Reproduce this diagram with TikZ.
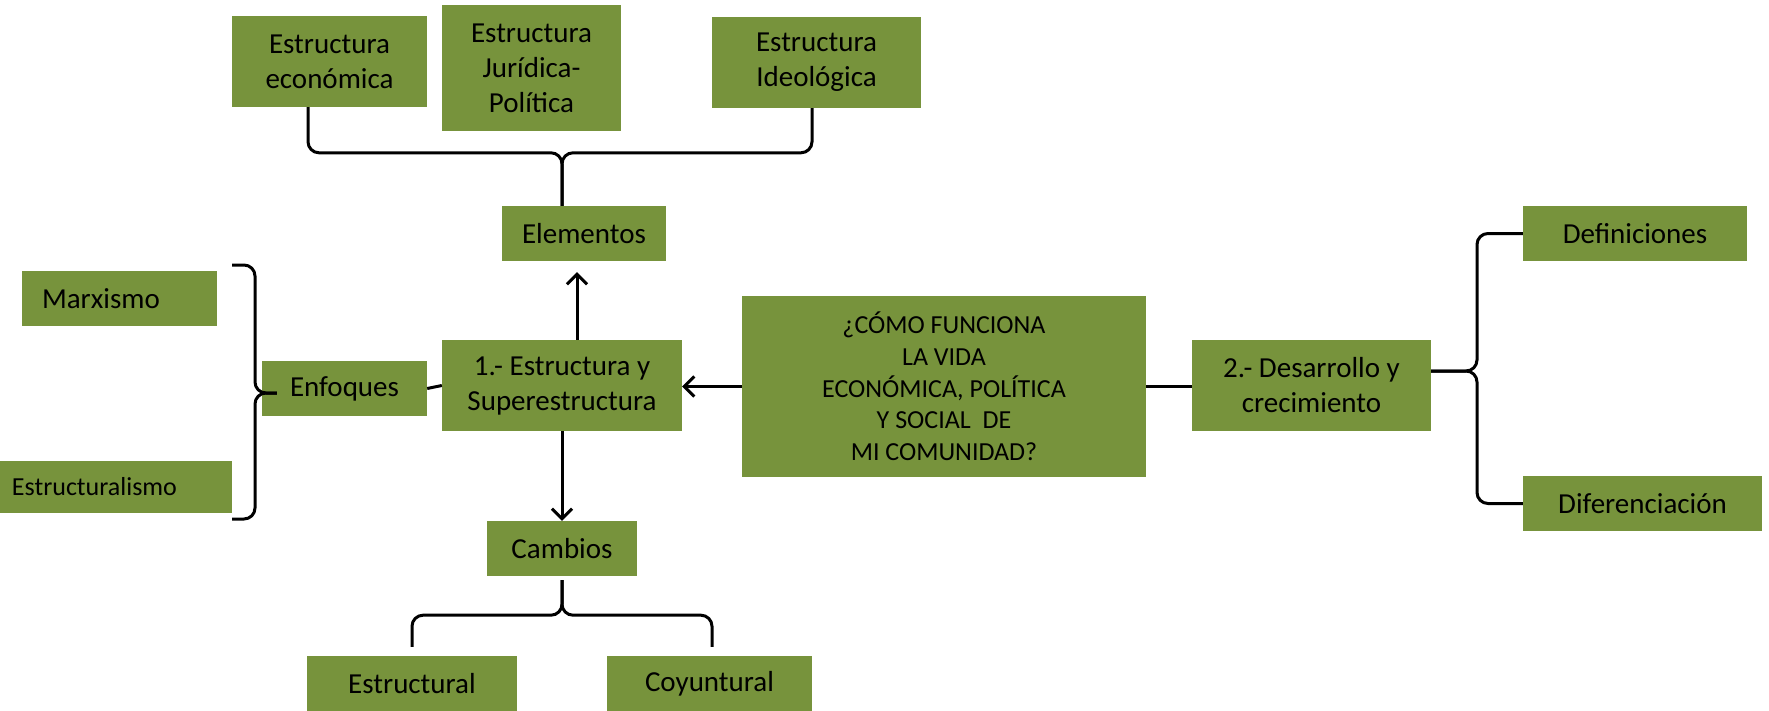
\documentclass[tikz,border=0pt]{standalone}
\usepackage{fontspec}
\setmainfont{Carlito}
\usetikzlibrary{arrows.meta,calc}
\definecolor{boxgreen}{HTML}{77933C}
\tikzset{
 box/.style={fill=boxgreen, inner sep=0pt, text=black, align=center, font=\fontsize{29}{35}\selectfont},
 conn/.style={line width=3pt, draw=black},
 brace/.style={conn, rounded corners=11pt},
 arr/.style={conn, -{Straight Barb[length=10pt,width=20pt]}},
}
\begin{document}
\begin{tikzpicture}[x=1pt,y=-1pt]
\useasboundingbox[fill=white] (0,0) rectangle (1769,710);
% top row
\node[box, minimum width=195, minimum height=91] (econ) at (329.5,61.5) {Estructura\\económica};
\node[box, minimum width=179, minimum height=126] (jur) at (531.5,68) {Estructura\\Jurídica-\\Política};
\node[box, minimum width=209, minimum height=91] (ideo) at (816.5,62.5) {Estructura\\Ideológica};
\node[box, minimum width=164, minimum height=55] (elem) at (584,233.5) {Elementos};
% left
\node[box, minimum width=195, minimum height=55, text width=155, align=left] (marx) at (119.5,298.5) {Marxismo};
\node[box, minimum width=232, minimum height=52, text width=208, align=left, font=\fontsize{26}{31}\selectfont] (estr) at (116,487) {Estructuralismo};
\node[box, minimum width=165, minimum height=55] (enf) at (344.5,388.5) {Enfoques};
\node[box, minimum width=240, minimum height=91] (one) at (562,385.5) {1.- Estructura y\\Superestructura};
% bottom
\node[box, minimum width=150, minimum height=55] (camb) at (562,548.5) {Cambios};
\node[box, minimum width=210, minimum height=56] (estruc) at (412,684) {Estructural};
\node[box, minimum width=205, minimum height=56] (coy) at (709.5,684) {Coyuntural};
% centre
\node[box, minimum width=404, minimum height=181, font=\fontsize{26}{31.7}\selectfont] (main) at (944,386.5) {¿CÓMO FUNCIONA\\LA VIDA\\ECONÓMICA, POLÍTICA\\Y SOCIAL\ \ DE\\MI COMUNIDAD?};
% right
\node[box, minimum width=239, minimum height=91] (dev) at (1311.5,385.5) {2.- Desarrollo y\\crecimiento};
\node[box, minimum width=224, minimum height=55] (def) at (1635,233.5) {Definiciones};
\node[box, minimum width=239, minimum height=55] (dif) at (1642.5,503.5) {Diferenciación};

% top brace
\coordinate (topjoin) at ($(elem.north)+(-22,-53)$);
\draw[brace] ($(econ.south)+(-21.5,0)$) |- (topjoin) -- ($(elem.north)+(-22,0)$);
\draw[brace] ($(ideo.south)+(-4.5,0)$) |- (topjoin) -- ($(elem.north)+(-22,0)$);
% left brace
\coordinate (lbT) at (232,265);
\coordinate (lbB) at (232,519);
\coordinate (lbM) at (255,393);
\coordinate (lbTip) at ($(enf.west)+(15,4.5)$);
\draw[brace] (lbT) -| (lbM) -- (lbTip);
\draw[brace] (lbB) -| (lbM) -- (lbTip);
% right brace
\coordinate (rbTip) at ($(dev.east)+(0,-14.5)$);
\coordinate (rbM) at (1477,371);
\draw[brace] (rbTip) -- (rbM) |- (def.west);
\draw[brace] (rbTip) -- (rbM) |- (dif.west);
% bottom brace
\coordinate (bjoin) at ($(camb.south)+(0,39)$);
\draw[brace] ($(camb.south)+(0,4)$) -- (bjoin) -| ($(estruc.north)+(0,-9)$);
\draw[brace] ($(camb.south)+(0,4)$) -- (bjoin) -| ($(coy.north)+(2.5,-9)$);

% connectors
\draw[arr] (main.west) -- (main.west -| one.east);
\draw[arr] ($(one.north)+(15,0)$) -- ($(elem.south)+(-7,11)$);
\draw[arr] (one.south) -- (camb.north);
\draw[conn] (main.east) -- (main.east -| dev.west);
\draw[conn] (enf.east) -- (one.west);
\end{tikzpicture}
\end{document}
